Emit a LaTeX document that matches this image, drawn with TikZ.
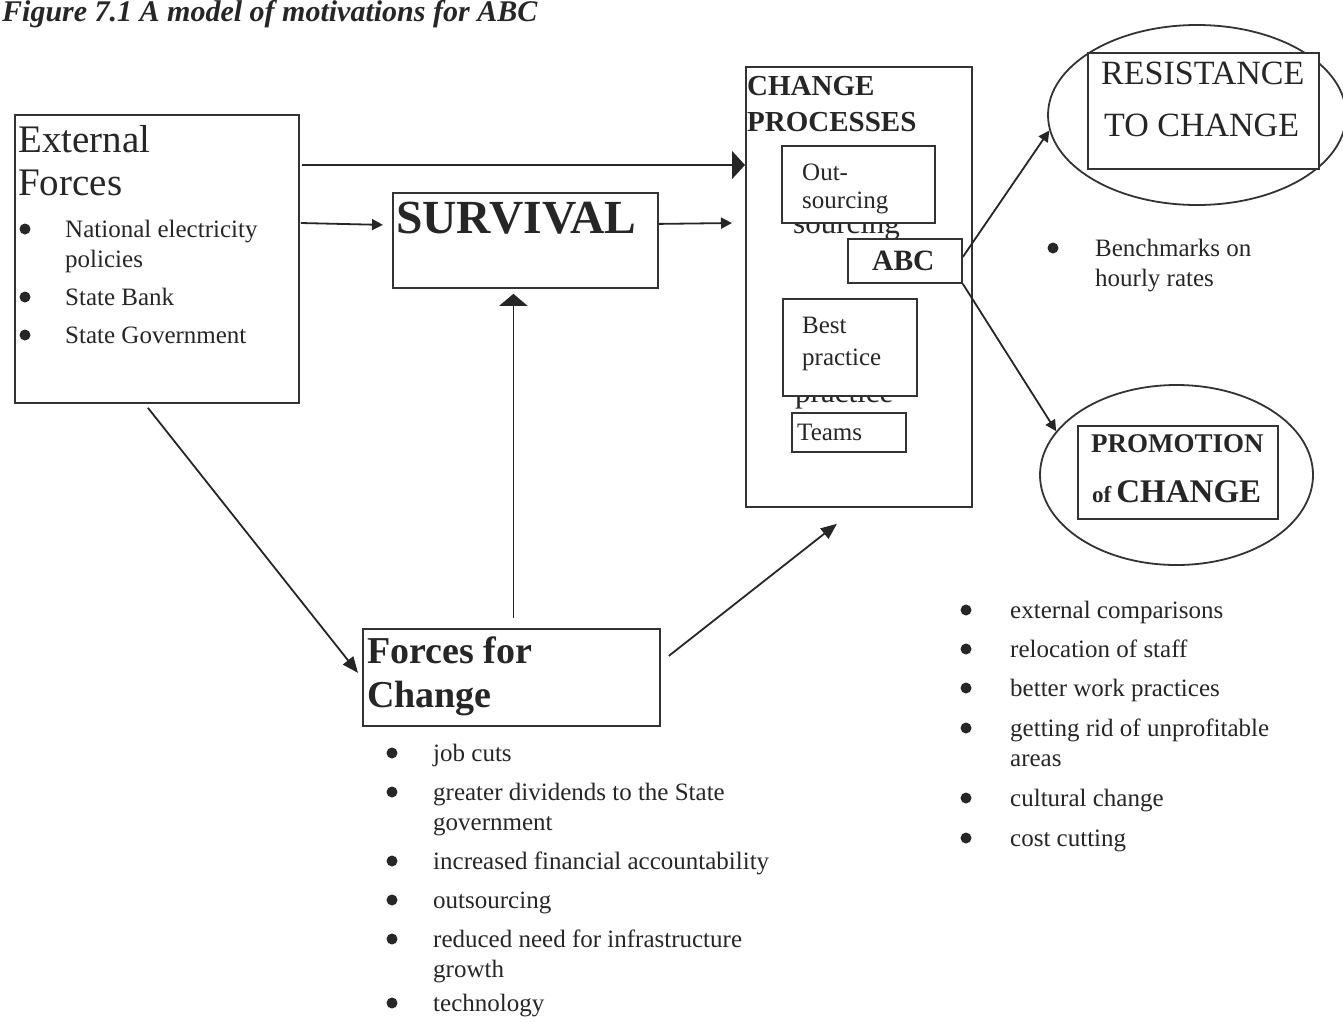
\documentclass[tikz,border=0pt]{standalone}
\usepackage{fontspec}
\setmainfont{Liberation Serif}
\usetikzlibrary{arrows.meta,calc,shapes.geometric}

\newcommand\fsz[2]{\fontsize{#1}{#2}\selectfont}
\newcommand\stack[1]{\begin{tabular}[t]{@{}l@{}}#1\end{tabular}}
% bullet item: name, bullet x, text x, baseline y, text
\newcommand\bitem[5]{%
  \node[dot] (#1-dot) at (#2,#4-8) {};
  \node[body] (#1) at (#3,#4) {\stack{#5}};}

\begin{document}
\begin{tikzpicture}[x=1pt,y=-1pt,
  box/.style={draw=black!80, line width=1.8pt, rectangle, anchor=north west,
              inner sep=0pt, fill=white},
  oval/.style={draw=black!80, line width=1.8pt, ellipse, inner sep=0pt},
  lbl/.style={anchor=base west, inner sep=0pt, text=black!85},
  body/.style={lbl, font=\fsz{25}{30}},
  dot/.style={circle, fill=black!85, inner sep=0pt, minimum size=11pt},
  conn/.style={draw=black!85, line width=1.8pt},
  tipsmall/.style={-{Triangle[length=11pt,width=11pt]}},
  tipmid/.style={-{Triangle[length=16pt,width=13pt]}},
]
\useasboundingbox (0,0) rectangle (1343,1021);

% heading
\node[lbl, font=\bfseries\itshape\fsz{30}{34}] (title) at (2,21)
  {Figure 7.1 A model of motivations for ABC};

% external forces
\node[box, minimum width=284pt, minimum height=288pt] (ext) at (14,114) {};
\node[lbl, font=\fsz{39}{43}] (exttxt) at (18,152) {\stack{External\\Forces}};
\bitem{e1}{25}{65}{237}{National electricity\\policies}
\bitem{e2}{25}{65}{305}{State Bank}
\bitem{e3}{25}{65}{343}{State Government}

% survival
\node[box, minimum width=265pt, minimum height=95pt] (surv) at (392,192) {};
\node[lbl, font=\bfseries\fsz{47.5}{50}] (survtxt) at (396,233) {SURVIVAL};

% change processes
\node[box, minimum width=226pt, minimum height=440pt] (cp) at (745,66) {};
\node[lbl, font=\bfseries\fsz{29}{36}] (cptxt) at (747,95) {\stack{CHANGE\\PROCESSES}};
\node[lbl, font=\fsz{31}{34}] (ghost1) at (793,233) {sourcing};
\node[lbl, font=\fsz{31}{34}] (ghost2) at (795,402) {practice};
\node[box, minimum width=153pt, minimum height=77pt] (outs) at (781,145) {};
\node[body, font=\fsz{25}{28}] (outstxt) at (802,180) {\stack{Out-\\sourcing}};
\node[box, minimum width=114pt, minimum height=44pt] (abc) at (847,238) {};
\node[lbl, font=\bfseries\fsz{29.5}{32}] (abctxt) at (872,270) {ABC};
\node[box, minimum width=134pt, minimum height=97pt] (best) at (782,298) {};
\node[body, font=\fsz{25}{32}] (besttxt) at (802,333) {\stack{Best\\practice}};
\node[box, minimum width=114pt, minimum height=39pt] (teams) at (791,412) {};
\node[body] (teamstxt) at (797,440) {Teams};

% resistance to change
\node[oval, minimum width=298pt, minimum height=180pt] (resell) at (1197,115) {};
\node[box, minimum width=231pt, minimum height=116pt] (resbox) at (1087,52) {};
\node[lbl, font=\fsz{34}{36}] (restxt1) at (1101,84) {RESISTANCE};
\node[lbl, font=\fsz{34}{36}] (restxt2) at (1104,136) {TO CHANGE};
\bitem{b1}{1053}{1095}{256}{Benchmarks on\\hourly rates}

% promotion of change
\node[oval, minimum width=273pt, minimum height=180pt] (promell) at (1176.5,475) {};
\node[box, minimum width=200pt, minimum height=93pt] (prombox) at (1077,425) {};
\node[lbl, font=\bfseries\fsz{27}{30}] (promtxt1) at (1091,452) {PROMOTION};
\node[lbl, font=\bfseries\fsz{33}{36}] (promtxt2) at (1092,502)
  {{\fsz{23}{26}of}\hspace{5pt}CHANGE};
\bitem{r1}{966}{1010}{618}{external comparisons}
\bitem{r2}{966}{1010}{657}{relocation of staff}
\bitem{r3}{966}{1010}{696}{better work practices}
\bitem{r4}{966}{1010}{736}{getting rid of unprofitable\\areas}
\bitem{r5}{966}{1010}{806}{cultural change}
\bitem{r6}{966}{1010}{846}{cost cutting}

% forces for change
\node[box, minimum width=297pt, minimum height=97pt] (forces) at (362,628) {};
\node[lbl, font=\bfseries\fsz{38}{44}] (forcestxt) at (367,663) {\stack{Forces for\\Change}};
\bitem{f1}{392}{433}{761}{job cuts}
\bitem{f2}{392}{433}{800}{greater dividends to the State\\government}
\bitem{f3}{392}{433}{869}{increased financial accountability}
\bitem{f4}{392}{433}{908}{outsourcing}
\bitem{f5}{392}{433}{947}{reduced need for infrastructure\\growth}
\bitem{f6}{392}{433}{1011}{technology}

% connectors
\draw[conn, -{Triangle[length=13pt,width=28pt]}]
  ($(ext.north east)+(2,51)$) -- ($(cp.north west)+(0,99)$);
\draw[conn, tipsmall] ($(ext.north east)+(1,109)$) -- ($(surv.west)+(-9,-15.5)$);
\draw[conn, tipsmall] ($(surv.east)+(0,-16.5)$) -- ($(cp.north west)+(-13,157)$);
\draw[conn, -{Triangle[length=12pt,width=28pt]}]
  ($(forces.north)+(2,-10)$) -- ($(surv.south)+(-12,5)$);
\draw[conn, tipmid] ($(ext.south)+(-9,4)$) -- ($(forces.west)+(-4,-4.5)$);
\draw[conn, tipmid] ($(forces.east)+(8,-21.5)$) -- ($(cp.south)+(-22,16)$);
\draw[conn, tipsmall] ($(abc.north east)+(0,19)$) -- (resell.186);
\draw[conn, tipsmall] (abc.south east) -- (promell.160);
\end{tikzpicture}
\end{document}
